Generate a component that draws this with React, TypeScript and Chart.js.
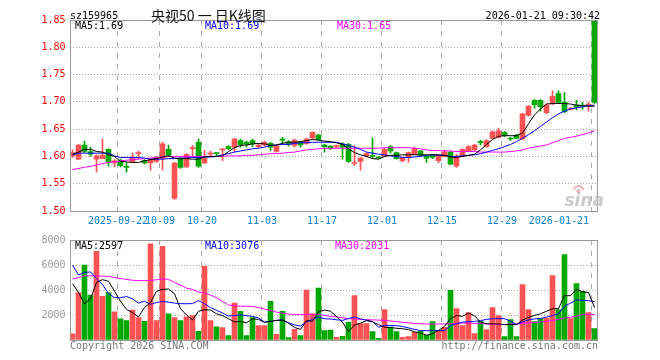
import React, { useEffect, useRef } from "react";
import { Chart, registerables } from "chart.js";

Chart.register(...registerables);

// ---------- data ----------
const CODE = "sz159965";
const TITLE = "央视50 一 日K线图";
const TIMESTAMP = "2026-01-21 09:30:42";
const COPYRIGHT = "Copyright 2026 SINA.COM";
const SITE = "http://finance.sina.com.cn";

const DATES = [
  "2025-09-10", "2025-09-11", "2025-09-12", "2025-09-15", "2025-09-16", "2025-09-17", "2025-09-18", "2025-09-19",
  "2025-09-22", "2025-09-23", "2025-09-24", "2025-09-25", "2025-09-26", "2025-09-29", "2025-09-30",
  "2025-10-09", "2025-10-10", "2025-10-13", "2025-10-14", "2025-10-15", "2025-10-16", "2025-10-17",
  "2025-10-20", "2025-10-21", "2025-10-22", "2025-10-23", "2025-10-24", "2025-10-27", "2025-10-28", "2025-10-29", "2025-10-30", "2025-10-31",
  "2025-11-03", "2025-11-04", "2025-11-05", "2025-11-06", "2025-11-07", "2025-11-10", "2025-11-11", "2025-11-12", "2025-11-13", "2025-11-14",
  "2025-11-17", "2025-11-18", "2025-11-19", "2025-11-20", "2025-11-21", "2025-11-24", "2025-11-25", "2025-11-26", "2025-11-27", "2025-11-28",
  "2025-12-01", "2025-12-02", "2025-12-03", "2025-12-04", "2025-12-05", "2025-12-08", "2025-12-09", "2025-12-10", "2025-12-11", "2025-12-12",
  "2025-12-15", "2025-12-16", "2025-12-17", "2025-12-18", "2025-12-19", "2025-12-22", "2025-12-23", "2025-12-24", "2025-12-25", "2025-12-26",
  "2025-12-29", "2025-12-30", "2025-12-31",
  "2026-01-05", "2026-01-06", "2026-01-07", "2026-01-08", "2026-01-09", "2026-01-12", "2026-01-13", "2026-01-14", "2026-01-15", "2026-01-16",
  "2026-01-19", "2026-01-20", "2026-01-21",
];

const TICK_DATES = ["2025-09-22", "2025-10-09", "2025-10-20", "2025-11-03", "2025-11-17", "2025-12-01", "2025-12-15", "2025-12-29", "2026-01-21"];
const TICK_TEXT = ["2025-09-22", "10-09", "10-20", "11-03", "11-17", "12-01", "12-15", "12-29", "2026-01-21"];

const OPEN = [
  1.601, 1.595, 1.621, 1.609, 1.595, 1.596, 1.613, 1.588, 1.592, 1.582,
  1.590, 1.605, 1.593, 1.588, 1.591, 1.596, 1.613, 1.523, 1.596, 1.581,
  1.614, 1.626, 1.588, 1.604, 1.606, 1.612, 1.618, 1.617, 1.629, 1.626,
  1.629, 1.618, 1.621, 1.624, 1.609, 1.631, 1.627, 1.620, 1.626, 1.624,
  1.634, 1.639, 1.621, 1.619, 1.618, 1.623, 1.622, 1.587, 1.591, 1.601,
  1.601, 1.599, 1.601, 1.618, 1.607, 1.592, 1.599, 1.604, 1.610, 1.600,
  1.602, 1.592, 1.600, 1.608, 1.582, 1.601, 1.610, 1.612, 1.627, 1.618,
  1.633, 1.635, 1.644, 1.633, 1.639, 1.632, 1.675, 1.703, 1.703, 1.680,
  1.696, 1.715, 1.699, 1.686, 1.694, 1.694, 1.694, 1.848,
];
const HIGH = [
  1.612, 1.622, 1.628, 1.617, 1.603, 1.632, 1.614, 1.594, 1.595, 1.589,
  1.606, 1.610, 1.594, 1.596, 1.600, 1.626, 1.621, 1.589, 1.598, 1.605,
  1.620, 1.632, 1.611, 1.610, 1.607, 1.614, 1.620, 1.633, 1.632, 1.628,
  1.632, 1.623, 1.628, 1.626, 1.620, 1.635, 1.629, 1.632, 1.628, 1.634,
  1.645, 1.641, 1.622, 1.620, 1.621, 1.625, 1.624, 1.620, 1.598, 1.607,
  1.634, 1.600, 1.615, 1.620, 1.608, 1.599, 1.608, 1.617, 1.611, 1.601,
  1.603, 1.603, 1.612, 1.610, 1.604, 1.614, 1.620, 1.622, 1.630, 1.631,
  1.647, 1.652, 1.646, 1.635, 1.641, 1.679, 1.693, 1.704, 1.704, 1.697,
  1.720, 1.720, 1.717, 1.690, 1.703, 1.699, 1.699, 1.850,
];
const LOW = [
  1.598, 1.594, 1.607, 1.600, 1.571, 1.596, 1.582, 1.581, 1.581, 1.571,
  1.588, 1.595, 1.586, 1.575, 1.589, 1.575, 1.600, 1.521, 1.578, 1.580,
  1.600, 1.580, 1.587, 1.600, 1.600, 1.592, 1.612, 1.608, 1.617, 1.617,
  1.618, 1.616, 1.619, 1.610, 1.608, 1.623, 1.619, 1.617, 1.617, 1.622,
  1.632, 1.629, 1.608, 1.613, 1.616, 1.595, 1.589, 1.583, 1.575, 1.599,
  1.597, 1.596, 1.600, 1.606, 1.595, 1.590, 1.589, 1.603, 1.601, 1.589,
  1.596, 1.588, 1.599, 1.585, 1.580, 1.600, 1.609, 1.611, 1.621, 1.617,
  1.632, 1.634, 1.636, 1.629, 1.632, 1.631, 1.674, 1.688, 1.683, 1.678,
  1.695, 1.697, 1.680, 1.685, 1.685, 1.686, 1.683, 1.697,
];
const CLOSE = [
  1.607, 1.621, 1.609, 1.604, 1.601, 1.602, 1.590, 1.592, 1.583, 1.580,
  1.598, 1.606, 1.588, 1.594, 1.598, 1.623, 1.602, 1.588, 1.580, 1.604,
  1.616, 1.582, 1.596, 1.606, 1.605, 1.613, 1.614, 1.632, 1.621, 1.623,
  1.623, 1.621, 1.626, 1.617, 1.619, 1.630, 1.622, 1.630, 1.621, 1.632,
  1.644, 1.631, 1.618, 1.615, 1.619, 1.617, 1.591, 1.588, 1.597, 1.605,
  1.600, 1.597, 1.613, 1.610, 1.596, 1.598, 1.607, 1.615, 1.602, 1.597,
  1.598, 1.602, 1.608, 1.586, 1.600, 1.613, 1.618, 1.621, 1.625, 1.629,
  1.645, 1.647, 1.638, 1.632, 1.633, 1.678, 1.692, 1.695, 1.691, 1.694,
  1.710, 1.699, 1.682, 1.687, 1.690, 1.692, 1.696, 1.699,
];

const MA5 = [
  1.604, 1.608, 1.613, 1.613, 1.609, 1.608, 1.603, 1.600, 1.591, 1.590,
  1.589, 1.589, 1.592, 1.594, 1.596, 1.599, 1.601, 1.597, 1.596, 1.596,
  1.595, 1.595, 1.599, 1.600, 1.600, 1.601, 1.609, 1.616, 1.620, 1.621,
  1.623, 1.624, 1.623, 1.620, 1.621, 1.624, 1.626, 1.626, 1.627, 1.629,
  1.631, 1.630, 1.628, 1.627, 1.625, 1.622, 1.614, 1.607, 1.603, 1.600,
  1.596, 1.595, 1.600, 1.602, 1.602, 1.603, 1.603, 1.603, 1.603, 1.603,
  1.603, 1.603, 1.602, 1.599, 1.598, 1.600, 1.602, 1.604, 1.612, 1.622,
  1.631, 1.637, 1.638, 1.638, 1.638, 1.643, 1.660, 1.676, 1.687, 1.696,
  1.697, 1.697, 1.697, 1.696, 1.694, 1.693, 1.692, 1.692,
];
const MA10 = [
  1.602, 1.606, 1.606, 1.606, 1.606, 1.606, 1.606, 1.601, 1.598, 1.598,
  1.598, 1.598, 1.597, 1.595, 1.595, 1.595, 1.596, 1.596, 1.597, 1.597,
  1.598, 1.598, 1.599, 1.599, 1.600, 1.603, 1.605, 1.608, 1.610, 1.612,
  1.614, 1.615, 1.617, 1.620, 1.621, 1.622, 1.622, 1.624, 1.625, 1.625,
  1.626, 1.626, 1.626, 1.626, 1.626, 1.623, 1.620, 1.617, 1.613, 1.608,
  1.606, 1.604, 1.603, 1.601, 1.600, 1.598, 1.598, 1.599, 1.600, 1.602,
  1.603, 1.602, 1.602, 1.600, 1.600, 1.601, 1.602, 1.603, 1.605, 1.608,
  1.611, 1.614, 1.618, 1.622, 1.627, 1.633, 1.640, 1.647, 1.655, 1.663,
  1.671, 1.678, 1.683, 1.687, 1.689, 1.691, 1.693, 1.694,
];
const MA30 = [
  1.576, 1.578, 1.580, 1.582, 1.584, 1.587, 1.589, 1.590, 1.592, 1.593,
  1.594, 1.595, 1.596, 1.597, 1.598, 1.599, 1.600, 1.600, 1.600, 1.600,
  1.600, 1.600, 1.600, 1.600, 1.600, 1.600, 1.601, 1.601, 1.601, 1.602,
  1.602, 1.603, 1.604, 1.605, 1.605, 1.606, 1.607, 1.608, 1.610, 1.612,
  1.613, 1.614, 1.615, 1.615, 1.615, 1.615, 1.615, 1.615, 1.615, 1.615,
  1.615, 1.615, 1.616, 1.616, 1.616, 1.616, 1.616, 1.615, 1.614, 1.612,
  1.611, 1.611, 1.610, 1.610, 1.609, 1.609, 1.609, 1.609, 1.608, 1.608,
  1.608, 1.608, 1.608, 1.609, 1.610, 1.612, 1.615, 1.617, 1.619, 1.621,
  1.625, 1.629, 1.633, 1.635, 1.637, 1.640, 1.643, 1.647,
];

const VOLUME = [
  500, 3800, 6000, 3600, 7100, 3500, 3800, 2250, 1700, 1550,
  2400, 1800, 1500, 7700, 1550, 7500, 2100, 1800, 1550, 1850,
  1950, 700, 5900, 1550, 1050, 1000, 350, 2950, 2300, 350,
  1800, 1150, 1150, 3100, 450, 2300, 200, 850, 350, 4000,
  2100, 4150, 750, 800, 210, 290, 1410, 3550, 1310, 1310,
  670, 130, 2430, 1040, 670, 210, 270, 610, 690, 400,
  1470, 750, 1010, 3970, 2510, 1150, 2190, 510, 1490, 830,
  2590, 1950, 270, 1630, 270, 4430, 2430, 1470, 1710, 1730,
  5150, 2430, 6830, 1710, 4510, 3890, 2190, 910,
];
const VMA5 = [
  4500, 3800, 2900, 3300, 4600, 4830, 4700, 3900, 3100, 2450,
  2200, 1850, 2600, 3000, 3900, 4050, 4080, 3700, 2500, 2000,
  1600, 2300, 2430, 2400, 2100, 1950, 1700, 1450, 1480, 1380,
  1700, 1650, 1420, 1500, 1570, 1580, 1350, 1000, 850, 1550,
  1500, 2250, 2400, 2300, 1900, 1420, 680, 1200, 1350, 1550,
  1450, 1230, 1020, 1000, 940, 900, 830, 650, 560, 380,
  500, 770, 1090, 1700, 1950, 1900, 2150, 1950, 1420, 1300,
  1290, 1280, 1230, 1230, 1230, 1600, 1800, 1970, 2100, 2300,
  2500, 2510, 3550, 3550, 4050, 3850, 3800, 2597,
];
const VMA10 = [
  6000, 5200, 5400, 5450, 4900, 4450, 3700, 3400, 3380, 3480,
  3300, 2950, 3100, 2850, 3000, 3080, 3030, 2950, 2910, 2900,
  2910, 3150, 2900, 2600, 2380, 2160, 1920, 1950, 2010, 1950,
  1890, 1770, 1430, 1500, 1570, 1620, 1380, 1200, 1120, 1450,
  1650, 1840, 1700, 1680, 1620, 1570, 1720, 1840, 1690, 1580,
  1490, 1020, 1170, 1160, 1150, 1080, 970, 850, 750, 750,
  750, 750, 750, 1150, 1300, 1430, 1460, 1490, 1550, 1650,
  1700, 1710, 1710, 1500, 1230, 1450, 1600, 1690, 1720, 1830,
  1960, 2100, 2700, 2950, 3200, 3180, 3150, 3076,
];
const VMA30 = [
  4880, 5000, 5130, 5140, 5120, 5110, 5090, 5000, 4920, 4850,
  4780, 4750, 4750, 4760, 4820, 4880, 4850, 4600, 4400, 4150,
  4050, 3830, 3770, 3600, 3380, 3100, 2800, 2730, 2710, 2700,
  2690, 2600, 2480, 2360, 2230, 2150, 2080, 2050, 2030, 2030,
  2050, 2060, 1960, 1900, 1840, 1780, 1710, 1680, 1650, 1630,
  1610, 1590, 1570, 1520, 1470, 1420, 1370, 1330, 1300, 1280,
  1280, 1280, 1280, 1300, 1330, 1360, 1340, 1320, 1310, 1290,
  1260, 1230, 1240, 1270, 1300, 1330, 1370, 1400, 1440, 1500,
  1550, 1650, 1760, 1820, 1890, 2040, 2060, 2031,
];

// ---------- styles ----------
const UP = "#ff5252";
const DOWN = "#00a800";
const GRID = "#aaaaaa";
const FRAME = "#999999";
const MONO = '"DejaVu Sans Mono", "Liberation Mono", monospace';
const CJK = '"Noto Sans CJK SC", "Noto Sans", sans-serif';
const C_MA5 = "#000000";
const C_MA10 = "#0000ff";
const C_MA30 = "#ff00ff";
const C_XLABEL = "#0a80d0";

const TICK_POS = new Map<number, string>(TICK_DATES.map((d, k) => [DATES.indexOf(d), TICK_TEXT[k]]));
const COLORS = CLOSE.map((c, i) => (c >= OPEN[i] ? UP : DOWN));

const framePlugin = {
  id: "frame",
  afterDraw(chart: any) {
    const { ctx, chartArea: a } = chart;
    ctx.save();
    ctx.strokeStyle = FRAME;
    ctx.lineWidth = 1;
    const l = Math.round(a.left) + 0.5;
    const r = Math.round(a.right) - 0.5;
    const t = Math.round(a.top) + 0.5;
    const b = Math.round(a.bottom) + 0.5;
    ctx.strokeRect(l, t, r - l, b - t);
    ctx.restore();
  },
};

const xGrid = {
  offset: true,
  drawTicks: false,
  lineWidth: 1,
  color: (c: any) => (TICK_POS.has(c.index) ? GRID : "rgba(0,0,0,0)"),
};

function lineDs(label: string, data: number[], color: string) {
  return {
    type: "line" as const,
    label,
    data,
    borderColor: color,
    backgroundColor: color,
    borderWidth: 1,
    pointRadius: 0,
    tension: 0,
    order: 0,
  };
}

function PriceChart() {
  const ref = useRef<HTMLCanvasElement | null>(null);
  useEffect(() => {
    if (!ref.current) return;
    const textPlugin = {
      id: "priceText",
      afterDraw(chart: any) {
        const { ctx, chartArea: a } = chart;
        const xs = chart.scales.x;
        ctx.save();
        ctx.textBaseline = "middle";
        ctx.font = `10px ${MONO}`;
        ctx.fillStyle = "#000";
        ctx.textAlign = "left";
        ctx.fillText(CODE, a.left + 0.5, 16.5);
        ctx.textAlign = "right";
        ctx.fillText(TIMESTAMP, a.right + 2.5, 16.5);
        ctx.font = `14px ${CJK}`;
        ctx.textAlign = "left";
        ctx.fillStyle = "#111";
        ctx.fillText(TITLE, 151, 16);
        // MA legend
        ctx.font = `10px ${MONO}`;
        ctx.fillStyle = C_MA5;
        ctx.fillText(`MA5:${MA5[MA5.length - 1].toFixed(2)}`, a.left + 5.5, 26.5);
        ctx.fillStyle = C_MA10;
        ctx.fillText(`MA10:${MA10[MA10.length - 1].toFixed(2)}`, a.left + 135.5, 26.5);
        ctx.fillStyle = C_MA30;
        ctx.fillText(`MA30:${MA30[MA30.length - 1].toFixed(2)}`, a.left + 267.5, 26.5);
        // x tick labels, centred on the grid line
        ctx.fillStyle = C_XLABEL;
        TICK_POS.forEach((text, idx) => {
          const gx = Math.round(xs.getPixelForValue(idx) - 3);
          const w = ctx.measureText(text).width;
          if (gx + w / 2 > a.right) {
            ctx.textAlign = "right";
            ctx.fillText(text, gx - 3, a.bottom + 10);
          } else {
            ctx.textAlign = "center";
            ctx.fillText(text, gx, a.bottom + 10);
          }
        });
        // sina watermark
        ctx.textAlign = "left";
        ctx.textBaseline = "alphabetic";
        ctx.font = `italic bold 17px "DejaVu Sans", sans-serif`;
        ctx.fillStyle = "rgba(185,185,185,0.75)";
        ctx.fillText("sina", a.right - 33, a.bottom - 5);
        ctx.strokeStyle = "rgba(235,150,150,0.7)";
        ctx.lineWidth = 2;
        ctx.beginPath();
        ctx.arc(a.right - 19, a.bottom - 20, 5, Math.PI * 1.1, Math.PI * 1.95);
        ctx.stroke();
        ctx.beginPath();
        ctx.arc(a.right - 19, a.bottom - 20, 2, 0, Math.PI * 2);
        ctx.fillStyle = "rgba(235,150,150,0.7)";
        ctx.fill();
        ctx.restore();
      },
    };
    const chart = new Chart(ref.current, {
      type: "bar",
      data: {
        labels: DATES,
        datasets: [
          lineDs("MA5", MA5, C_MA5),
          lineDs("MA10", MA10, C_MA10),
          lineDs("MA30", MA30, C_MA30),
          {
            type: "bar",
            label: "body",
            data: OPEN.map((o, i) => [o, CLOSE[i]]) as any,
            backgroundColor: COLORS,
            barThickness: 5,
            grouped: false,
            minBarLength: 1,
            order: 1,
          } as any,
          {
            type: "bar",
            label: "wick",
            data: LOW.map((l, i) => [l, HIGH[i]]) as any,
            backgroundColor: COLORS,
            barThickness: 1,
            grouped: false,
            order: 2,
          } as any,
        ],
      },
      options: {
        animation: false,
        responsive: false,
        maintainAspectRatio: false,
        devicePixelRatio: 1,
        layout: { padding: { top: 20, right: 62.5, bottom: 0, left: 0 } },
        plugins: { legend: { display: false }, tooltip: { enabled: false }, title: { display: false } },
        scales: {
          x: {
            type: "category",
            offset: true,
            grid: xGrid as any,
            border: { display: false, dash: [5, 6] },
            ticks: { display: false, autoSkip: false },
            afterFit: (s: any) => {
              s.height = 19;
            },
          },
          y: {
            type: "linear",
            min: 1.5,
            max: 1.85,
            grid: { drawTicks: false, color: GRID, lineWidth: 1 },
            border: { display: false, dash: [1, 2] },
            ticks: {
              stepSize: 0.05,
              padding: 4,
              color: "#ff0000",
              font: { family: MONO, size: 10 },
              callback: (v: any) => Number(v).toFixed(2),
            },
            afterFit: (s: any) => {
              s.width = 69.5;
            },
          },
        },
      } as any,
      plugins: [framePlugin, textPlugin],
    });
    return () => chart.destroy();
  }, []);
  return <canvas ref={ref} width={660} height={230} style={{ position: "absolute", left: 0, top: 0, width: 660, height: 230 }} />;
}

function VolumeChart() {
  const ref = useRef<HTMLCanvasElement | null>(null);
  useEffect(() => {
    if (!ref.current) return;
    const textPlugin = {
      id: "volText",
      afterDraw(chart: any) {
        const { ctx, chartArea: a } = chart;
        ctx.save();
        ctx.textBaseline = "middle";
        ctx.font = `10px ${MONO}`;
        ctx.textAlign = "left";
        ctx.fillStyle = C_MA5;
        ctx.fillText(`MA5:${VMA5[VMA5.length - 1]}`, a.left + 5.5, a.top + 6.5);
        ctx.fillStyle = C_MA10;
        ctx.fillText(`MA10:${VMA10[VMA10.length - 1]}`, a.left + 135.5, a.top + 6.5);
        ctx.fillStyle = C_MA30;
        ctx.fillText(`MA30:${VMA30[VMA30.length - 1]}`, a.left + 265.5, a.top + 6.5);
        ctx.fillStyle = "#777";
        ctx.fillText(COPYRIGHT, a.left + 0.5, a.bottom + 6.5);
        ctx.textAlign = "right";
        ctx.fillText(SITE, a.right + 0.5, a.bottom + 6.5);
        ctx.restore();
      },
    };
    const chart = new Chart(ref.current, {
      type: "bar",
      data: {
        labels: DATES,
        datasets: [
          lineDs("MA5", VMA5, C_MA5),
          lineDs("MA10", VMA10, C_MA10),
          lineDs("MA30", VMA30, C_MA30),
          {
            type: "bar",
            label: "volume",
            data: VOLUME,
            backgroundColor: COLORS,
            barThickness: 5,
            grouped: false,
            order: 1,
          } as any,
        ],
      },
      options: {
        animation: false,
        responsive: false,
        maintainAspectRatio: false,
        devicePixelRatio: 1,
        layout: { padding: { top: 10, right: 62.5, bottom: 0, left: 0 } },
        plugins: { legend: { display: false }, tooltip: { enabled: false } },
        scales: {
          x: {
            type: "category",
            offset: true,
            grid: xGrid as any,
            border: { display: false, dash: [5, 6] },
            ticks: { display: false, autoSkip: false },
            afterFit: (s: any) => {
              s.height = 20;
            },
          },
          y: {
            type: "linear",
            min: 0,
            max: 8000,
            grid: { drawTicks: false, color: GRID, lineWidth: 1 },
            border: { display: false, dash: [1, 2] },
            ticks: {
              stepSize: 2000,
              padding: 4,
              color: "#999999",
              font: { family: MONO, size: 10 },
              callback: (v: any) => (Number(v) === 0 ? "" : String(v)),
            },
            afterFit: (s: any) => {
              s.width = 69.5;
            },
          },
        },
      } as any,
      plugins: [framePlugin, textPlugin],
    });
    return () => chart.destroy();
  }, []);
  return <canvas ref={ref} width={660} height={130} style={{ position: "absolute", left: 0, top: 230, width: 660, height: 130 }} />;
}

export default function App() {
  return (
    <div style={{ position: "absolute", left: 0, top: 0, width: 660, height: 360, background: "#fff", overflow: "hidden" }}>
      <PriceChart />
      <VolumeChart />
    </div>
  );
}
